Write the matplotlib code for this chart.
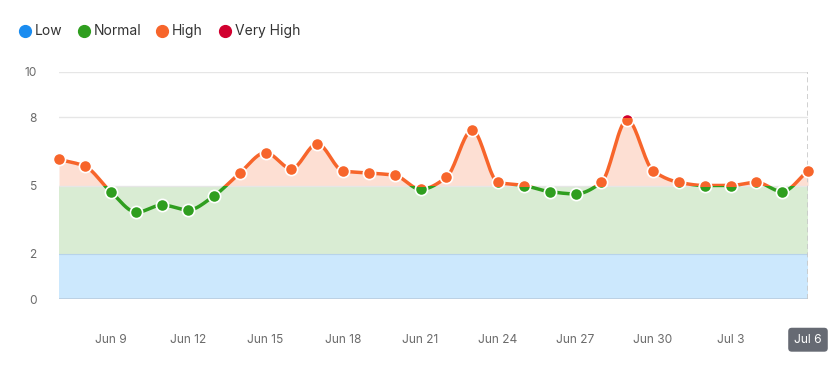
import numpy as np
import pandas as pd
import matplotlib
matplotlib.use("Agg")
import matplotlib.pyplot as plt
from matplotlib.patches import Rectangle
from matplotlib.lines import Line2D

plt.rcParams['font.family'] = ['Inter', 'DejaVu Sans']

# daily values, Jun 7 .. Jul 6
dates = pd.date_range("2024-06-07", "2024-07-06", freq="D")
values = [6.15, 5.85, 4.73, 3.82, 4.14, 3.92, 4.54, 5.55, 6.45, 5.74,
          6.84, 5.64, 5.55, 5.45, 4.83, 5.36, 7.44, 5.14, 5.0, 4.73,
          4.63, 5.14, 7.9, 5.65, 5.14, 5.0, 5.0, 5.14, 4.73, 5.65]
tick_days = ["Jun 9", "Jun 12", "Jun 15", "Jun 18", "Jun 21", "Jun 24",
             "Jun 27", "Jun 30", "Jul 3", "Jul 6"]
y_ticks = [0, 2, 5, 8, 10]

zone_names = ["Low", "Normal", "High", "Very High"]
zone_edges = [(-100, 2), (2, 5), (5, 8), (8, 100)]
zone_colors = ["#1a8cf0", "#2f9e1f", "#f7652b", "#d1002f"]


def monotone(x, y, n=20):
    # Fritsch-Carlson monotone cubic for a smooth line
    x = np.asarray(x, float)
    y = np.asarray(y, float)
    h = np.diff(x)
    d = np.diff(y) / h
    m = np.zeros_like(y)
    m[0], m[-1] = d[0], d[-1]
    for i in range(1, len(y) - 1):
        if d[i - 1] * d[i] <= 0:
            m[i] = 0
        else:
            w1 = 2 * h[i] + h[i - 1]
            w2 = h[i] + 2 * h[i - 1]
            m[i] = (w1 + w2) / (w1 / d[i - 1] + w2 / d[i])
    xs, ys = [], []
    for i in range(len(x) - 1):
        t = np.linspace(0, 1, n, endpoint=False)
        h00 = 2 * t**3 - 3 * t**2 + 1
        h10 = t**3 - 2 * t**2 + t
        h01 = -2 * t**3 + 3 * t**2
        h11 = t**3 - t**2
        xs.append(x[i] + t * h[i])
        ys.append(h00 * y[i] + h10 * h[i] * m[i] + h01 * y[i + 1] + h11 * h[i] * m[i + 1])
    xs.append([x[-1]])
    ys.append([y[-1]])
    return np.concatenate(xs), np.concatenate(ys)


x = np.arange(len(values))
xs, ys = monotone(x, values)

fig = plt.figure(figsize=(8.35, 3.66), dpi=100)
ax = fig.add_axes([59 / 835, 67 / 366, 749 / 835, 227 / 366])

# bands
ax.axhspan(0, 2, color="#cce8fd", lw=0, zorder=0)
ax.axhspan(2, 5, color="#d9ecd3", lw=0, zorder=0)
ax.fill_between(xs, 5, np.maximum(ys, 5), color="#fddfd3", lw=0, zorder=0)
ax.fill_between(xs, 8, np.maximum(ys, 8), color="#f6c7d0", lw=0, zorder=0)

for yv in [5, 8, 10]:
    ax.axhline(yv, color="#e6e6e6", lw=1, zorder=0.5)
ax.axhline(2, color="#b7d3ea", lw=0.8, zorder=0.6)
ax.axhline(0, color="#b9cde0", lw=1.2, zorder=0.6)
ax.axvline(x[-1], ymin=0, ymax=1, color="#c8c8c8", lw=1.2, ls=(0, (3, 2)), zorder=0.6)

# zoned line and markers
for (lo, hi), c in zip(zone_edges, zone_colors):
    ln, = ax.plot(xs, ys, color=c, lw=2.5, solid_capstyle="round", zorder=2)
    ln.set_clip_path(Rectangle((-10, lo), 60, hi - lo, transform=ax.transData))
    mk, = ax.plot(x, values, ls="none", marker="o", ms=8.8, mfc=c, mec="white",
                  mew=1.2, zorder=3)
    mk.set_clip_path(Rectangle((-10, lo), 60, hi - lo, transform=ax.transData))

ax.set_xlim(x[0], x[-1])
ax.set_ylim(0, 10)
for s in ax.spines.values():
    s.set_visible(False)

ax.set_yticks(y_ticks)
ax.set_yticklabels([str(v) for v in y_ticks])
tick_pos = [i for i, d in enumerate(dates) if d.strftime("%b %-d") in tick_days]
ax.set_xticks(tick_pos)
ax.set_xticklabels([dates[i].strftime("%b %-d") for i in tick_pos])
ax.tick_params(length=0, labelsize=8.6, colors="#6b6b6b")
ax.tick_params(axis="y", pad=16)
ax.tick_params(axis="x", pad=25)

last = ax.get_xticklabels()[-1]
last.set_color("white")
last.set_bbox(dict(boxstyle="round,pad=0.5,rounding_size=0.3", fc="#666a73", ec="none"))

# legend
leg_x = [25, 84, 162, 225]
for px, name, c in zip(leg_x, zone_names, zone_colors):
    fig.add_artist(Line2D([px / 835], [1 - 31 / 366], marker="o", ms=8.5, color=c,
                          ls="none", transform=fig.transFigure))
    fig.text((px + 10) / 835, 1 - 31 / 366, name, fontsize=10, color="#333333",
             va="center", ha="left")

fig.savefig("out.png", dpi=100)
